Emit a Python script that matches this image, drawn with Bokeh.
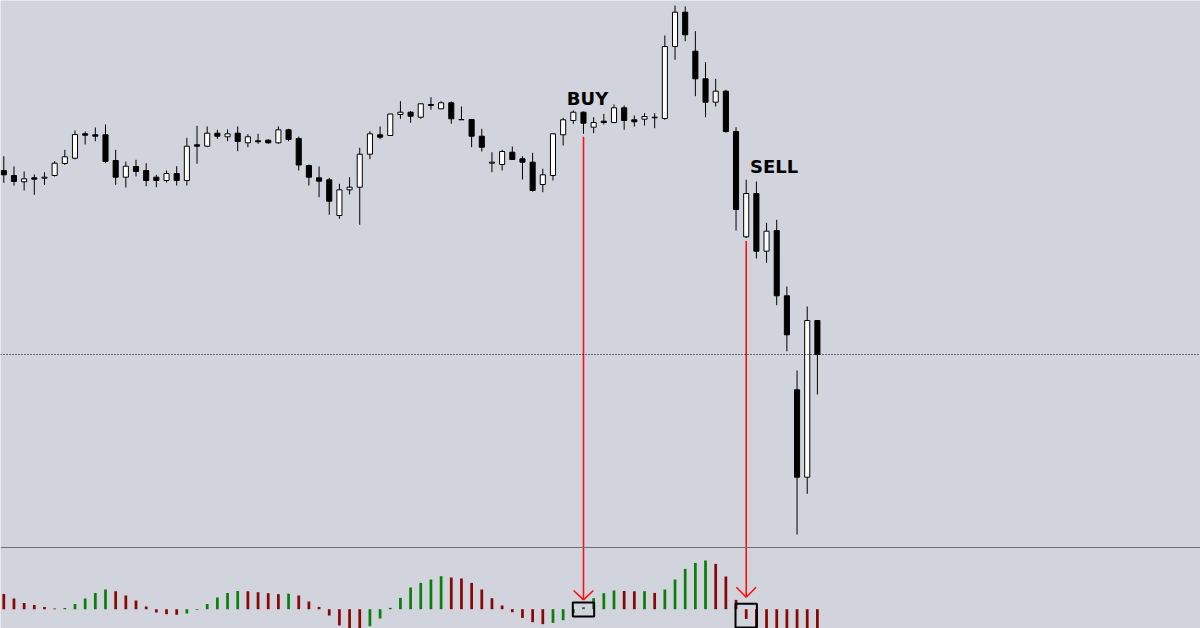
from bokeh.plotting import figure
from bokeh.models import Range1d, Span, ColumnDataSource
from bokeh.core.properties import value
from bokeh.embed import file_html
from bokeh.resources import INLINE
import numpy as np

# ---- price bars (one per period) ----
opens = [
    1.24580, 1.24530, 1.24467, 1.24507, 1.24503, 1.24530, 1.24650, 1.24703, 1.24947, 1.24937,
    1.24937, 1.24680, 1.24513, 1.24620, 1.24580, 1.24513, 1.24480, 1.24550, 1.24480, 1.24837,
    1.24823, 1.24953, 1.24917, 1.24953, 1.24857, 1.24877, 1.24883, 1.24857, 1.24987, 1.24900,
    1.24630, 1.24507, 1.24487, 1.24130, 1.24387, 1.24413, 1.24743, 1.24937, 1.24930, 1.25140,
    1.25163, 1.25113, 1.25240, 1.25197, 1.25257, 1.25090, 1.25090, 1.24923, 1.24653, 1.24640,
    1.24763, 1.24697, 1.24663, 1.24440, 1.24530, 1.24937, 1.25080, 1.25163, 1.25013, 1.25073,
    1.25060, 1.25207, 1.25087, 1.25093, 1.25107, 1.25100, 1.25820, 1.26163, 1.25773, 1.25497,
    1.25263, 1.25373, 1.24970, 1.23917, 1.24350, 1.23773, 1.23980, 1.23327, 1.22387, 1.21513,
    1.23080,
]
highs = [
    1.24723, 1.24620, 1.24570, 1.24540, 1.24563, 1.24673, 1.24787, 1.24980, 1.24970, 1.25010,
    1.25040, 1.24787, 1.24670, 1.24687, 1.24653, 1.24537, 1.24580, 1.24623, 1.24907, 1.25027,
    1.25020, 1.24987, 1.24990, 1.25020, 1.24943, 1.24947, 1.24893, 1.25020, 1.24997, 1.24920,
    1.24640, 1.24620, 1.24507, 1.24447, 1.24513, 1.24807, 1.24973, 1.25020, 1.25147, 1.25273,
    1.25173, 1.25253, 1.25313, 1.25273, 1.25270, 1.25220, 1.25090, 1.24997, 1.24763, 1.24787,
    1.24820, 1.24723, 1.24757, 1.24597, 1.24953, 1.25107, 1.25180, 1.25170, 1.25113, 1.25147,
    1.25240, 1.25230, 1.25130, 1.25153, 1.25153, 1.25930, 1.26230, 1.26220, 1.25973, 1.25663,
    1.25497, 1.25387, 1.25013, 1.24488, 1.24470, 1.24057, 1.24087, 1.23420, 1.22580, 1.23220,
    1.23080,
]
lows = [
    1.24457, 1.24430, 1.24380, 1.24337, 1.24437, 1.24520, 1.24637, 1.24690, 1.24840, 1.24873,
    1.24653, 1.24437, 1.24410, 1.24520, 1.24423, 1.24413, 1.24460, 1.24430, 1.24430, 1.24647,
    1.24813, 1.24897, 1.24873, 1.24773, 1.24813, 1.24847, 1.24847, 1.24847, 1.24873, 1.24580,
    1.24430, 1.24313, 1.24137, 1.24097, 1.24340, 1.24037, 1.24693, 1.24893, 1.24925, 1.25097,
    1.25057, 1.25097, 1.25187, 1.25193, 1.25047, 1.25087, 1.24813, 1.24770, 1.24563, 1.24580,
    1.24687, 1.24490, 1.24370, 1.24363, 1.24480, 1.24830, 1.25047, 1.24947, 1.24953, 1.25040,
    1.25053, 1.24987, 1.25020, 1.25030, 1.25003, 1.25087, 1.25687, 1.25873, 1.25323, 1.25113,
    1.25220, 1.24957, 1.23980, 1.23905, 1.23700, 1.23657, 1.23233, 1.22773, 1.20940, 1.21347,
    1.22340,
]
closes = [
    1.24537, 1.24470, 1.24497, 1.24493, 1.24513, 1.24653, 1.24717, 1.24940, 1.24933, 1.24923,
    1.24670, 1.24513, 1.24623, 1.24570, 1.24480, 1.24480, 1.24550, 1.24480, 1.24823, 1.24823,
    1.24953, 1.24923, 1.24947, 1.24870, 1.24917, 1.24867, 1.24857, 1.24987, 1.24890, 1.24635,
    1.24513, 1.24473, 1.24273, 1.24387, 1.24413, 1.24743, 1.24947, 1.24913, 1.25145, 1.25163,
    1.25123, 1.25247, 1.25230, 1.25257, 1.25097, 1.25087, 1.24923, 1.24813, 1.24663, 1.24770,
    1.24690, 1.24663, 1.24380, 1.24537, 1.24947, 1.25087, 1.25163, 1.25053, 1.25060, 1.25060,
    1.25207, 1.25080, 1.25067, 1.25120, 1.25113, 1.25820, 1.26163, 1.25937, 1.25497, 1.25263,
    1.25373, 1.24970, 1.24190, 1.24350, 1.23773, 1.23973, 1.23327, 1.22937, 1.21513, 1.23080,
    1.22740,
]

# ---- oscillator histogram (OsMA) ----
osma = [
    0.00153, 0.00107, 0.00063, 0.00043, 0.00023, 0.00007, 0.00013, 0.00053, 0.00107, 0.00163,
    0.00197, 0.00180, 0.00137, 0.00087, 0.00027, -0.00033, -0.00050, -0.00055, -0.00043, -0.00007,
    0.00053, 0.00117, 0.00163, 0.00183, 0.00180, 0.00170, 0.00160, 0.00150, 0.00155, 0.00137,
    0.00077, 0.00023, -0.00063, -0.00163, -0.00210, -0.00225, -0.00170, -0.00093, 0.00013, 0.00113,
    0.00217, 0.00263, 0.00297, 0.00330, 0.00317, 0.00307, 0.00263, 0.00197, 0.00110, 0.00037,
    -0.00030, -0.00087, -0.00130, -0.00150, -0.00137, -0.00110, -0.00040, 0.00020, 0.00110, 0.00160,
    0.00187, 0.00182, 0.00179, 0.00180, 0.00163, 0.00197, 0.00297, 0.00403, 0.00463, 0.00487,
    0.00453, 0.00327, 0.00093, -0.00097, -0.00220, -0.00300, -0.00360, -0.00410, -0.00470, -0.00490,
    -0.00500,
]

# ---- trade signals ----
signal_bars = [57, 73]
signal_labels = ["BUY", "SELL"]
signal_label_shift = [4, 28]          # px, horizontal nudge of each label
signal_box_top = [0.00067, 0.00054]
signal_box_bottom = [-0.00073, -0.00183]
signal_arrow_tip = [0.00094, 0.00120]
signal_arrow_head = [0.00187, 0.00220]

n = len(closes)
idx = np.arange(n)
o = np.array(opens); h = np.array(highs); l = np.array(lows); c = np.array(closes)
bull = c >= o

BG = "#d1d4dc"
PRICE_LO, PRICE_HI = 1.2000, 1.2628
OSC_LO, OSC_HI = -0.00193, 0.06087

p = figure(width=1200, height=628,
           x_range=Range1d(-0.3245, 117.67),
           y_range=Range1d(PRICE_LO, PRICE_HI),
           output_backend="svg", toolbar_location=None,
           x_axis_location=None, y_axis_location=None,
           min_border=0, background_fill_color=BG, border_fill_color=BG,
           outline_line_color=None)
p.grid.visible = False
p.extra_y_ranges = {"osc": Range1d(OSC_LO, OSC_HI)}


def price_to_osc(price):
    frac = (price - PRICE_LO) / (PRICE_HI - PRICE_LO)
    return OSC_LO + frac * (OSC_HI - OSC_LO)


# pane separator and last-price line
p.add_layout(Span(location=0.00617, dimension="width", y_range_name="osc",
                  line_color="#6f6f6f", line_width=1))
p.add_layout(Span(location=closes[-1], dimension="width",
                  line_color="black", line_width=1, line_dash="1 2"))

# candles
p.segment(x0=idx, y0=h, x1=idx, y1=l, line_color="black", line_width=1)
body_src = ColumnDataSource(dict(
    x=idx, top=np.maximum(o, c), bottom=np.minimum(o, c),
    fill=np.where(bull, "white", "black")))
p.vbar(x="x", width=0.5, top="top", bottom="bottom", fill_color="fill",
       line_color="black", line_width=1, source=body_src)

# OsMA histogram: green while rising, dark red while falling
osc = np.array(osma)
rising = np.concatenate([[False], np.diff(osc) > 0])
hist_src = ColumnDataSource(dict(
    x=idx, top=np.maximum(osc, 0), bottom=np.minimum(osc, 0),
    color=np.where(rising, "#0a7f0a", "#880808")))
p.vbar(x="x", width=0.27, top="top", bottom="bottom", fill_color="color",
       line_color=None, source=hist_src, y_range_name="osc")

# signal connectors, arrowheads, boxes and labels
sb = np.array(signal_bars)
start = [price_to_osc(lows[i] - 0.0003) for i in signal_bars]
p.segment(x0=sb, y0=start, x1=sb, y1=signal_arrow_tip, line_color="#ff1010",
          line_width=1.6, y_range_name="osc")
hw = 0.97
p.segment(x0=sb - hw, y0=signal_arrow_head, x1=sb, y1=signal_arrow_tip,
          line_color="#ff1010", line_width=1.6, y_range_name="osc")
p.segment(x0=sb + hw, y0=signal_arrow_head, x1=sb, y1=signal_arrow_tip,
          line_color="#ff1010", line_width=1.6, y_range_name="osc")
p.quad(left=sb - 1.05, right=sb + 1.05, top=signal_box_top, bottom=signal_box_bottom,
       fill_color=None, line_color="black", line_width=2, y_range_name="osc")

p.text(x=sb, y=[highs[i] + 0.0013 for i in signal_bars], text=signal_labels,
       x_offset=signal_label_shift,
       text_font=value("DejaVu Sans"), text_font_style="bold", text_font_size="18px",
       text_align="center", text_baseline="alphabetic", text_color="black")

open("out.html", "w").write(file_html(p, INLINE))
